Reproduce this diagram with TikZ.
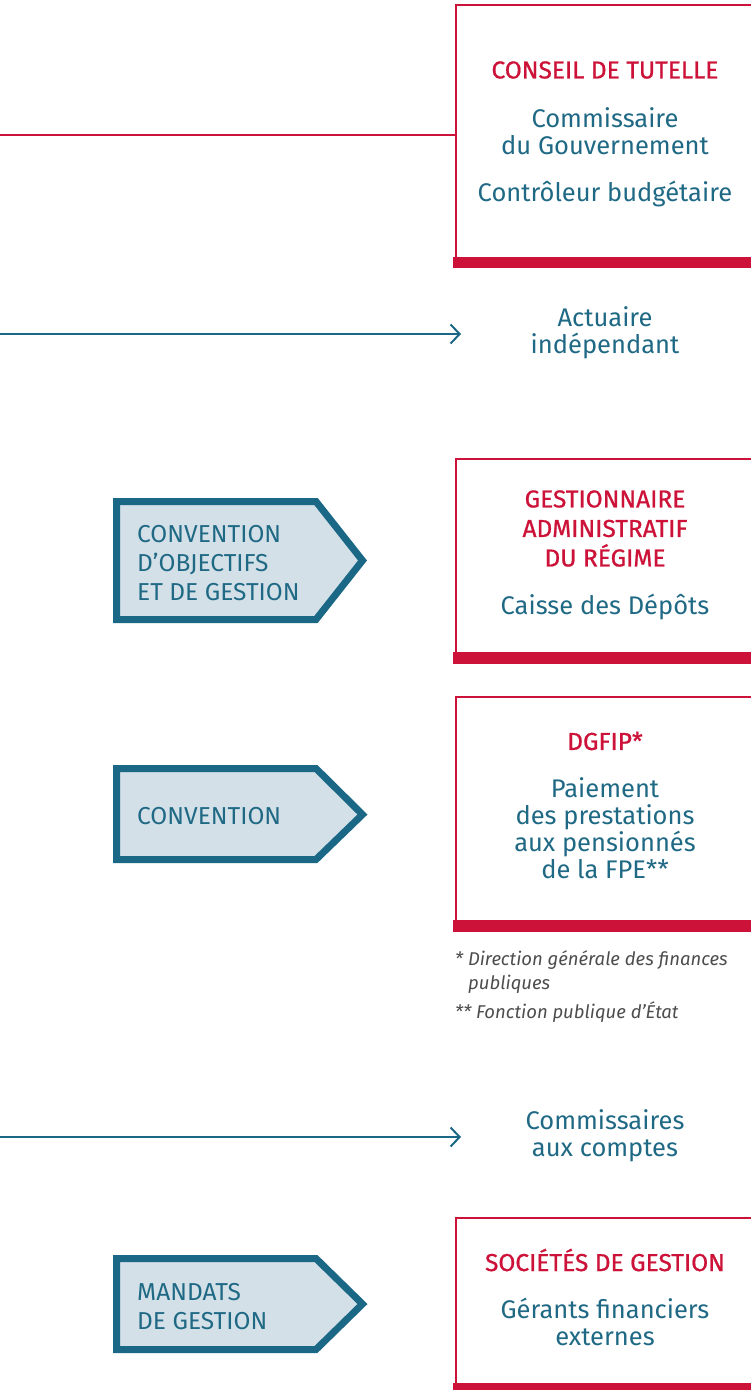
\documentclass[tikz,border=0pt]{standalone}
\usepackage{fontspec}
\setmainfont{Fira Sans}
\newfontfamily\redfont{Fira Sans}[FakeBold=0.8]
\usetikzlibrary{arrows.meta}
\definecolor{cred}{HTML}{CC1238}
\definecolor{cblue}{HTML}{1F6985}
\definecolor{pborder}{HTML}{1B6886}
\definecolor{pfill}{HTML}{D3E0E8}
\definecolor{cgray}{HTML}{4D4D4D}
\tikzset{
  redbox/.style={draw=cred, line width=2pt, anchor=north west, inner sep=0pt},
  redbar/.style={fill=cred},
  redtitle/.style={text=cred, align=center, inner sep=0pt, font=\redfont\fontsize{24.5}{29.5}\selectfont},
  bluetext/.style={text=cblue, align=center, inner sep=0pt, font=\fontsize{25.5}{27}\selectfont},
  pentatext/.style={text=cblue, align=left, anchor=west, inner sep=0pt, font=\fontsize{24.5}{29}\selectfont},
  penta/.style={draw=pborder, fill=pfill, line width=7pt, line join=miter},
  redline/.style={draw=cred, line width=2pt},
  bluearrow/.style={draw=pborder, line width=2pt, -{Straight Barb[length=9pt,width=19pt]}},
  notetext/.style={text=cgray, align=left, anchor=west, inner sep=0pt, font=\fontsize{18.5}{24}\selectfont\itshape},
}
\begin{document}
\begin{tikzpicture}[x=1pt,y=-1pt]
\useasboundingbox (0,0) rectangle (751,1390);
\clip (0,0) rectangle (751,1390);
\fill[white] (0,0) rectangle (751,1390);

% Box 1
\node[redbox, minimum width=310pt, minimum height=253pt] (box1) at (455,4) {};
\fill[redbar] (453,257) rectangle (760,268);
\node[redtitle] (t1) at (605,70) {CONSEIL DE TUTELLE};
\node[bluetext] (t1a) at (605,131.5) {Commissaire\\du Gouvernement};
\node[bluetext] (t1b) at (605,194) {Contrôleur budgétaire};
\coordinate (l1) at (0,135);
\draw[redline] (l1) -- (l1 -| box1.west);

% Actuaire
\node[bluetext] (act) at (605,332.5) {Actuaire\\indépendant};
\coordinate (a1s) at (0,334);
\coordinate (a1e) at (461,334);
\draw[bluearrow] (a1s) -- (a1e);

% Box 2
\node[redbox, minimum width=310pt, minimum height=195pt] (box2) at (455,458) {};
\fill[redbar] (453,652) rectangle (760,664);
\node[redtitle] (t2) at (605,528.5) {GESTIONNAIRE\\ADMINISTRATIF\\DU RÉGIME};
\node[bluetext] (t2a) at (605,607) {Caisse des Dépôts};
\draw[penta] (116.5,501.5) -- (316,501.5) -- (362.5,560.5) -- (316,619.5) -- (116.5,619.5) -- cycle;
\node[pentatext] (p1) at (137,563) {CONVENTION\\D’OBJECTIFS\\ET DE GESTION};

% Box 3
\node[redbox, minimum width=310pt, minimum height=225pt] (box3) at (455,696) {};
\fill[redbar] (453,920) rectangle (760,932);
\node[redtitle] (t3) at (605,741) {DGFIP*};
\node[bluetext] (t3a) at (605,828) {Paiement\\des prestations\\aux pensionnés\\de la FPE**};
\draw[penta] (116.5,768.5) -- (316,768.5) -- (362.5,814.5) -- (316,859.5) -- (116.5,859.5) -- cycle;
\node[pentatext] (p2) at (137,816) {CONVENTION};

% Footnotes
\node[notetext] (n1) at (455,960) {* Direction générale des finances};
\node[notetext] (n1b) at (468,984) {publiques};
\node[notetext] (n2) at (455,1012) {** Fonction publique d’État};

% Commissaires aux comptes
\node[bluetext] (cac) at (605,1136) {Commissaires\\aux comptes};
\coordinate (a2s) at (0,1137);
\coordinate (a2e) at (461,1137);
\draw[bluearrow] (a2s) -- (a2e);

% Box 4
\node[redbox, minimum width=310pt, minimum height=168pt] (box4) at (455,1217) {};
\fill[redbar] (453,1383) rectangle (760,1395);
\node[redtitle] (t4) at (605,1260) {SOCIÉTÉS DE GESTION};
\node[bluetext] (t4a) at (605,1321.5) {Gérants financiers\\externes};
\draw[penta] (116.5,1258.5) -- (316,1258.5) -- (362.5,1304) -- (316,1349.5) -- (116.5,1349.5) -- cycle;
\node[pentatext] (p3) at (137,1306.5) {MANDATS\\DE GESTION};
\end{tikzpicture}
\end{document}
